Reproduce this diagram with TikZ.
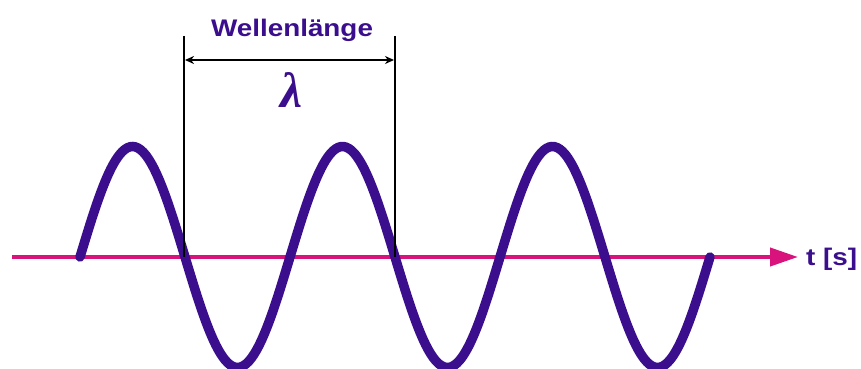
\documentclass[tikz,border=0pt]{standalone}
\usepackage{fontspec}
\setmainfont{Liberation Sans}
\newfontfamily\lamfont{Liberation Serif}
\usetikzlibrary{arrows.meta}
\definecolor{wavepurple}{HTML}{3A0E8C}
\definecolor{axismag}{HTML}{D8147C}
\tikzset{
  wave/.style={wavepurple, line width=9.5pt, line cap=round},
  axisline/.style={axismag, line width=4pt, -{Triangle[length=28pt,width=18pt]}},
  guide/.style={black, line width=2pt},
  dimarrow/.style={black, line width=2pt, {Stealth[length=9pt,width=8pt]}-{Stealth[length=9pt,width=8pt]}},
  lbl/.style={text=wavepurple, inner sep=0pt, font=\bfseries\fontsize{24}{28}\selectfont}
}
\begin{document}
\begin{tikzpicture}[x=1pt, y=-1pt]
\useasboundingbox (0,0) rectangle (861,369);
% axis
\coordinate (a0) at (12,257);
\coordinate (a1) at (798,257);
\draw[axisline] (a0) -- (a1);
\node[lbl, anchor=base west] (t) at (806,265) {\scalebox{1.16}[1]{t [s]}};
% wave
\draw[wave] plot[domain=80:710, samples=240, smooth] (\x, {257 - 110.5*sin((\x-80)/210*360)});
% guides
\coordinate (g1t) at (184,36);
\coordinate (g1b) at (184,257);
\coordinate (g2t) at (395,36);
\coordinate (g2b) at (395,257);
\draw[guide] (g1t) -- (g1b);
\draw[guide] (g2t) -- (g2b);
\coordinate (d1) at (185,60);
\coordinate (d2) at (394,60);
\draw[dimarrow] (d1) -- (d2);
\node[lbl, anchor=base] (wl) at (292,37) {\scalebox{1.16}[1]{Wellenlänge}};
\node[lbl, anchor=center] (lam) at (291,89.5) {\resizebox{22pt}{35pt}{\lamfont\bfseries\itshape λ}};
\end{tikzpicture}
\end{document}
